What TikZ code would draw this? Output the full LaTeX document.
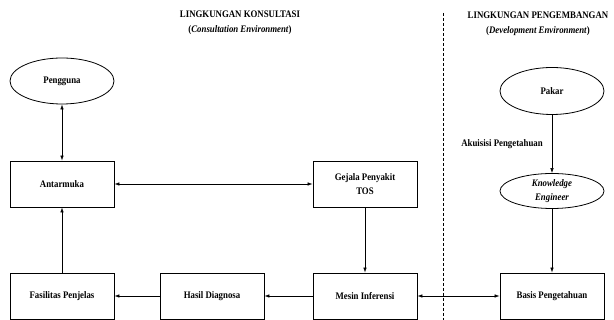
\documentclass[tikz,border=0pt]{standalone}
\usepackage{fontspec}
\setmainfont{Liberation Serif}[FakeStretch=0.88]
\usetikzlibrary{shapes.geometric,arrows.meta}

\newcommand{\schrift}{\fontsize{10}{13.5}\selectfont\bfseries}

\tikzset{
  kasten/.style={draw, line width=0.8pt, minimum width=104pt, minimum height=46pt,
    inner sep=1pt, align=center, font=\schrift},
  oval/.style={draw, ellipse, line width=0.8pt, minimum width=104pt, minimum height=46pt,
    inner sep=0pt, align=center, font=\schrift},
  titel/.style={align=center, inner sep=0pt, font=\fontsize{10}{15}\selectfont\bfseries},
  pfeil/.style={line width=0.6pt, -{Latex[length=5pt,width=3.5pt]}},
  doppelpfeil/.style={line width=0.6pt, {Latex[length=5pt,width=3.5pt]}-{Latex[length=5pt,width=3.5pt]}},
}

\begin{document}
\begin{tikzpicture}[x=1pt,y=-1pt]
  \useasboundingbox (0,0) rectangle (614,320);

  % Ueberschriften
  \node[titel] (konsultasi) at (240,22.5)
    {LINGKUNGAN KONSULTASI\\(\textit{Consultation Environment})};
  \node[titel] (pengembangan) at (538,23.5)
    {LINGKUNGAN PENGEMBANGAN\\(\textit{Development Environment})};

  % Trennlinie
  \coordinate (grenzeoben) at (443,13);
  \coordinate (grenzeunten) at (443,320);
  \draw[line width=0.6pt, dash pattern=on 3pt off 2pt] (grenzeoben) -- (grenzeunten);

  % Konsultation
  \node[oval] (pengguna) at (62,81) {Pengguna};
  \node[kasten] (antarmuka) at (62,184) {Antarmuka};
  \node[kasten] (gejala) at (365,184) {Gejala Penyakit\\TOS};
  \node[kasten] (fasilitas) at (62,296) {Fasilitas Penjelas};
  \node[kasten] (hasil) at (212,296) {Hasil Diagnosa};
  \node[kasten] (mesin) at (365,296) {Mesin Inferensi};

  % Entwicklung
  \node[oval, minimum height=47pt] (pakar) at (552,91) {Pakar};
  \node[oval, minimum height=35pt] (engineer) at (552,191)
    {\textit{Knowledge}\\\textit{Engineer}};
  \node[kasten] (basis) at (552,296) {Basis Pengetahuan};

  % Verbindungen
  \draw[doppelpfeil] (pengguna) -- (antarmuka);
  \draw[doppelpfeil] (antarmuka) -- (gejala);
  \draw[pfeil] (fasilitas) -- (antarmuka);
  \draw[pfeil] (gejala) -- (mesin);
  \draw[pfeil] (mesin) -- (hasil);
  \draw[pfeil] (hasil) -- (fasilitas);
  \draw[doppelpfeil] (mesin) -- (basis);
  \draw[pfeil] (pakar) -- node[left=9pt, inner sep=0pt, font=\schrift] (akuisisi)
    {Akuisisi Pengetahuan} (engineer);
  \draw[pfeil] (engineer) -- (basis);

\end{tikzpicture}
\end{document}
